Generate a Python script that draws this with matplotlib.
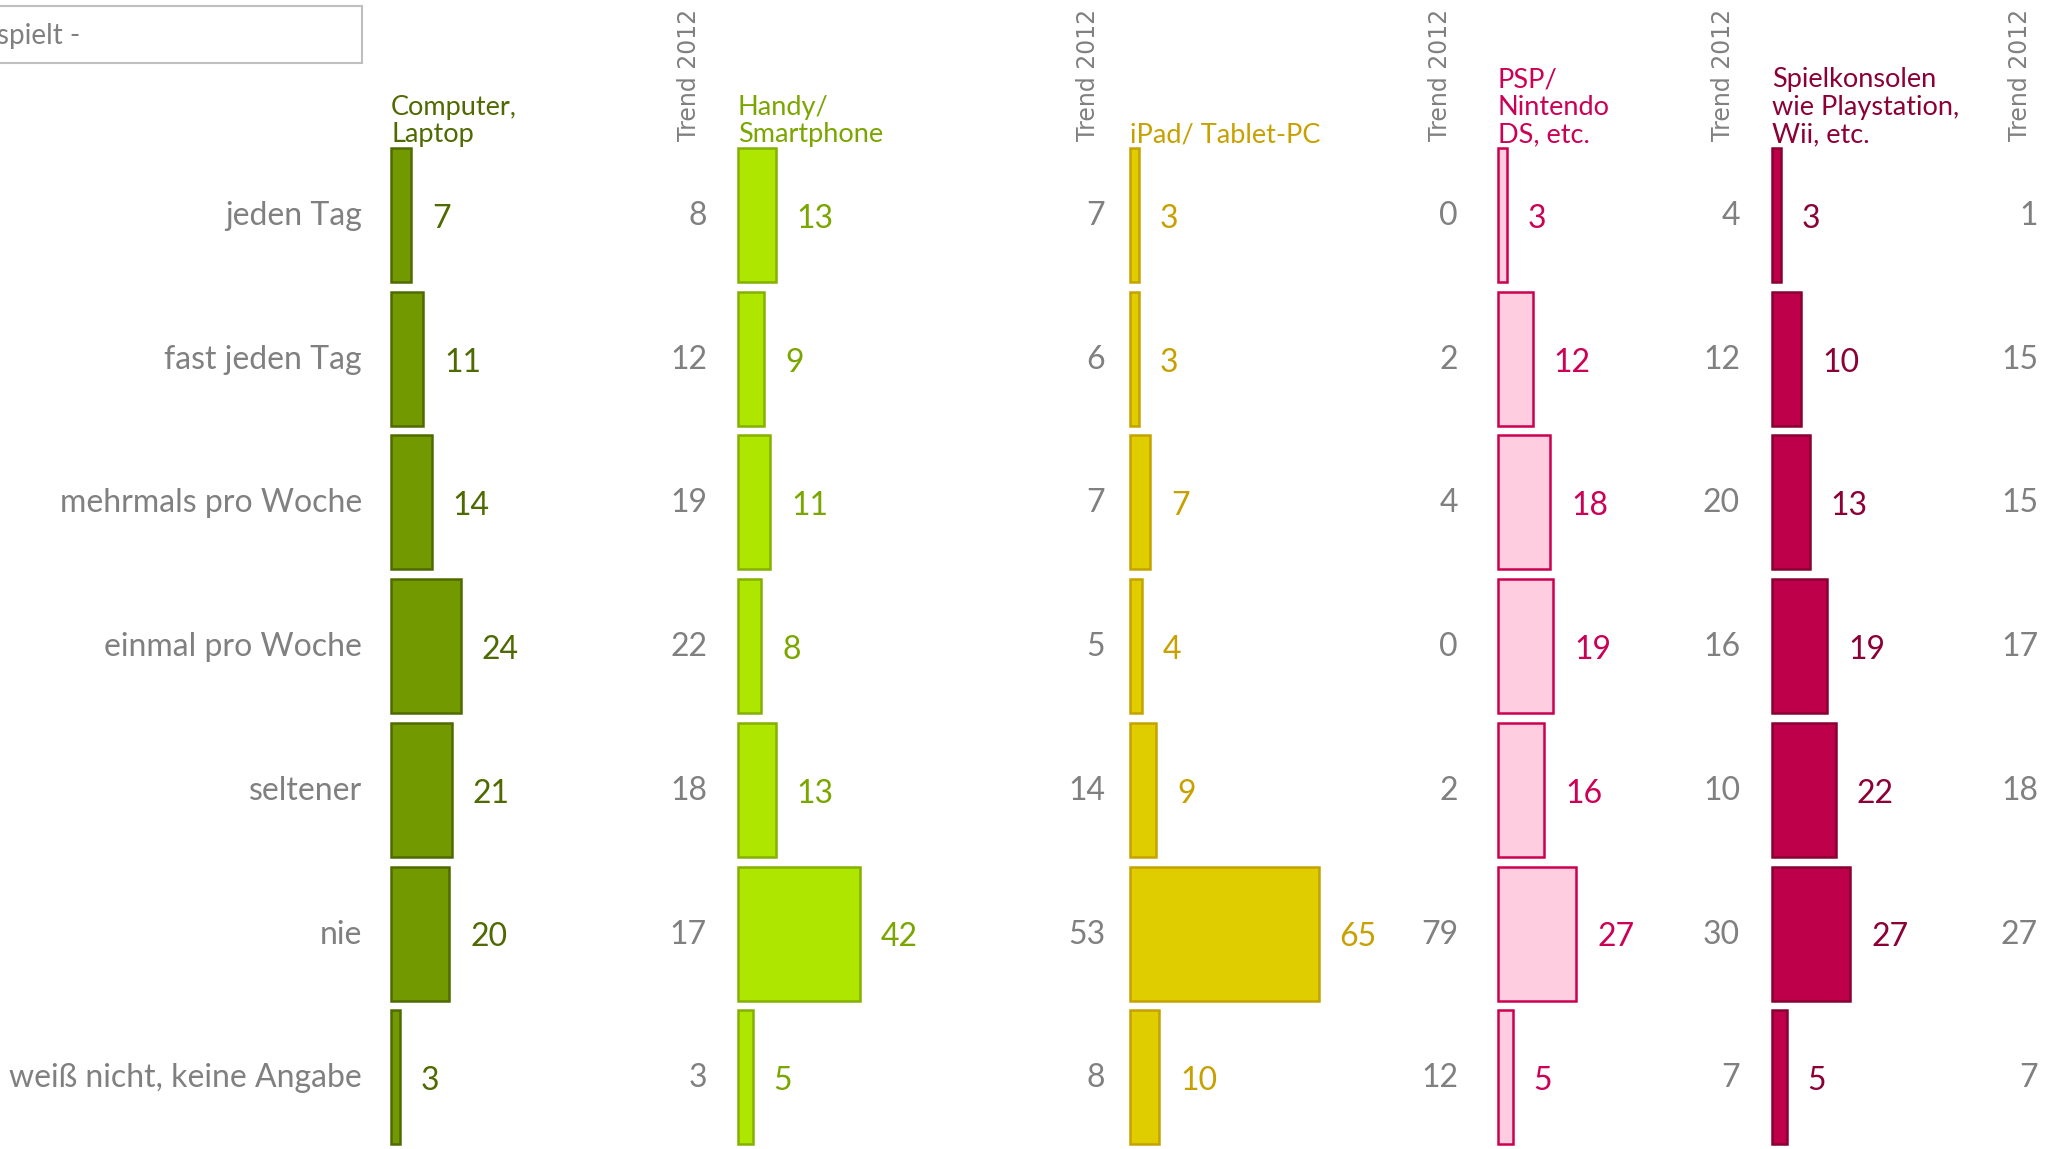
import numpy as np
import matplotlib
matplotlib.use("Agg")
import matplotlib.pyplot as plt

plt.rcParams['font.family'] = ['Lato', 'DejaVu Sans']

# Werte aus der Grafik (Prozent)
categories = ["jeden Tag", "fast jeden Tag", "mehrmals pro Woche", "einmal pro Woche",
              "seltener", "nie", "weiß nicht, keine Angabe"]
devices = ["Computer,\nLaptop", "Handy/\nSmartphone", "iPad/ Tablet-PC",
           "PSP/\nNintendo\nDS, etc.", "Spielkonsolen\nwie Playstation,\nWii, etc."]

computer = [7, 11, 14, 24, 21, 20, 3]
computer_trend = [8, 12, 19, 22, 18, 17, 3]
handy = [13, 9, 11, 8, 13, 42, 5]
handy_trend = [7, 6, 7, 5, 14, 53, 8]
ipad = [3, 3, 7, 4, 9, 65, 10]
ipad_trend = [0, 2, 4, 0, 2, 79, 12]
psp = [3, 12, 18, 19, 16, 27, 5]
psp_trend = [4, 12, 20, 16, 10, 30, 7]
konsolen = [3, 10, 13, 19, 22, 27, 5]
konsolen_trend = [1, 15, 15, 17, 18, 27, 7]

values = [computer, handy, ipad, psp, konsolen]
trends = [computer_trend, handy_trend, ipad_trend, psp_trend, konsolen_trend]

fills = ["#729A00", "#AEE600", "#E0CD00", "#FFCCE0", "#BE004B"]
edges = ["#4F6B00", "#84B000", "#C4A200", "#CC0050", "#8A0033"]
text_cols = ["#4F6A00", "#7BA600", "#C8A000", "#CC0055", "#8C0036"]
gray = "#808080"

# Layout in Pixeln (Bild 2058x1149)
W, H = 2058, 1149
col_left = [391, 738, 1130, 1498, 1772]
trend_right = [707, 1105, 1458, 1740, 2038]
trend_title_x = [689, 1088, 1440, 1723, 2020]
px_per_unit = 2.9
row_top = 215
row_pitch = 143.7
bar_h = 134

fig = plt.figure(figsize=(W / 100, H / 100), dpi=100)
ax = fig.add_axes([0, 0, 1, 1])
ax.set_xlim(0, W)
ax.set_ylim(H, 0)
ax.axis('off')

y = row_top + np.arange(len(categories)) * row_pitch

for cat, yy in zip(categories, y):
    ax.text(362, yy + 1, cat, ha='right', va='center', fontsize=23, color=gray)

for i in range(len(values)):
    widths = np.array(values[i]) * px_per_unit
    ax.barh(y, widths, left=col_left[i], height=bar_h, color=fills[i],
            edgecolor=edges[i], linewidth=1.8)
    for yy, w, v in zip(y, widths, values[i]):
        ax.text(col_left[i] + w + 21, yy + 4, str(v), ha='left', va='center',
                fontsize=23, color=text_cols[i])
    for yy, t in zip(y, trends[i]):
        ax.text(trend_right[i], yy + 1, str(t), ha='right', va='center',
                fontsize=23, color=gray)
    ax.text(col_left[i], 147, devices[i], ha='left', va='bottom', fontsize=19.5,
            color=text_cols[i], linespacing=1.12)
    ax.text(trend_title_x[i], 141, "Trend 2012", rotation=90, ha='center',
            va='bottom', fontsize=17, color=gray, family='DejaVu Sans')

# Kasten oben links (abgeschnitten)
box = plt.Rectangle((-10, 6), 372, 57, fill=False, edgecolor="#BFBFBF", linewidth=1.5)
ax.add_patch(box)
ax.text(-3, 36, "spielt -", ha='left', va='center', fontsize=20, color=gray)

fig.savefig("out.png", dpi=100)
